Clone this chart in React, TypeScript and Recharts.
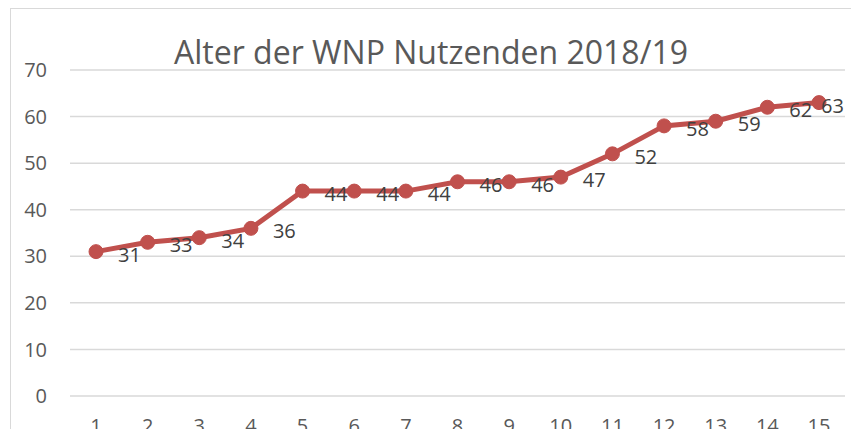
import React from "react";
import { LineChart, Line, XAxis, YAxis, CartesianGrid, LabelList } from "recharts";

const categories = ["1", "2", "3", "4", "5", "6", "7", "8", "9", "10", "11", "12", "13", "14", "15"];
const ages = [31, 33, 34, 36, 44, 44, 44, 46, 46, 47, 52, 58, 59, 62, 63];
const yTicks = [0, 10, 20, 30, 40, 50, 60, 70];
const title = "Alter der WNP Nutzenden 2018/19";

const data = categories.map((c, i) => ({ name: c, value: ages[i] }));

const FONT = "'Open Sans', sans-serif";

const renderLabel = (props: any) => {
  const { x, y, value } = props;
  let tx = Number(x) + 22;
  const w = 23;
  if (tx + w > 844) tx = 844 - w;
  return (
    <text x={tx} y={Number(y) + 3} dy="0.35em" textAnchor="start" fill="#404040" fontSize={20} fontFamily={FONT}>
      {value}
    </text>
  );
};

export default function App() {
  return (
    <div style={{ position: "absolute", left: 0, top: 0, width: 851, height: 429, overflow: "hidden", background: "#fff" }}>
      <div style={{ position: "absolute", left: 10, top: 8, width: 845, height: 430, borderLeft: "1px solid #d9d9d9", borderTop: "1px solid #d9d9d9" }} />
      <div style={{ position: "absolute", left: 0, top: 32, width: 862, textAlign: "center", fontFamily: FONT, fontSize: 32, color: "#595959", lineHeight: "40px", whiteSpace: "nowrap" }}>
        {title}
      </div>
      <LineChart width={851} height={429} data={data} margin={{ top: 70, right: 6, bottom: 0, left: 0 }} style={{ position: "absolute", left: 0, top: 0 }}>
        <CartesianGrid vertical={false} stroke="#d9d9d9" strokeWidth={1.5} />
        <XAxis dataKey="name" height={33} padding={{ left: 26, right: 26 }} tickLine={false} axisLine={false} tickSize={0} tickMargin={23} interval={0} tick={{ fill: "#595959", fontSize: 20, fontFamily: FONT }} />
        <YAxis width={70} domain={[0, 70]} ticks={yTicks} tickLine={false} axisLine={false} tickSize={0} tickMargin={23} tick={{ fill: "#595959", fontSize: 20, fontFamily: FONT }} />
        <Line type="linear" dataKey="value" stroke="#C0504D" strokeWidth={5} dot={{ r: 7, fill: "#C0504D", stroke: "#C0504D", strokeWidth: 1 }} isAnimationActive={false}>
          <LabelList dataKey="value" content={renderLabel} />
        </Line>
      </LineChart>
    </div>
  );
}
